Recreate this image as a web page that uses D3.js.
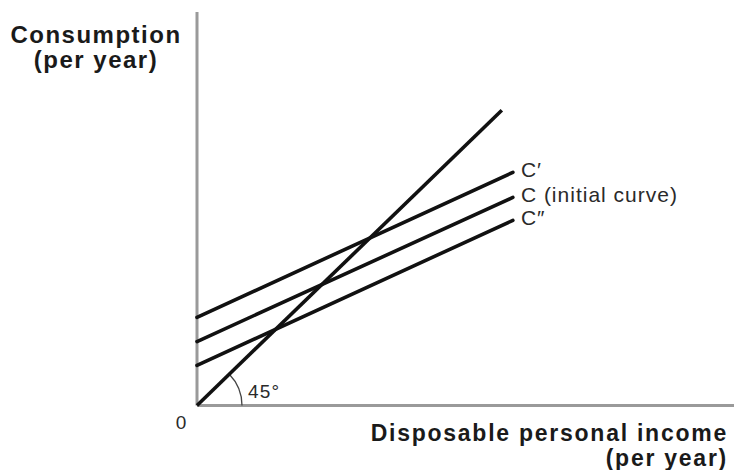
<!DOCTYPE html>
<html>
<head>
<meta charset="utf-8">
<script src="https://cdn.jsdelivr.net/npm/d3@7"></script>
<style>
  html, body { margin: 0; padding: 0; background: #fff; }
  svg { display: block; font-family: "Liberation Sans", Arial, sans-serif; }
</style>
</head>
<body>
<svg id="chart" width="734" height="470"></svg>
<script>
// ---- data ----
const curveLabels = ["C′", "C", "C″"];
const curveSuffix = ["", " (initial curve)", ""];
const curveStartX = 0;
const curveEndX = 10;
const curveIntercepts = [2.88, 2.09, 1.31];   // consumption at zero income
const curveEndValues = [7.62, 6.80, 6.05];    // consumption at curveEndX
const line45X = [0, 9.65];                    // 45-degree line, y = x
const xMax = 17;
const yMax = 12.86;
const originLabel = "0";
const angleLabel = "45°";
const yTitle = ["Consumption", "(per year)"];
const xTitle = ["Disposable personal income", "(per year)"];

// ---- scales ----
const svg = d3.select("#chart");
const x = d3.scaleLinear().domain([0, xMax]).range([197, 734]);
const y = d3.scaleLinear().domain([0, yMax]).range([405.5, 12]);

// ---- axes ----
const axisColor = "#9a9a9a";
svg.append("line")
  .attr("x1", x(0)).attr("x2", x(0))
  .attr("y1", y(0)).attr("y2", y(yMax))
  .attr("stroke", axisColor).attr("stroke-width", 3);
svg.append("line")
  .attr("x1", x(0)).attr("x2", x(xMax))
  .attr("y1", y(0)).attr("y2", y(0))
  .attr("stroke", axisColor).attr("stroke-width", 3);

// ---- 45 degree arc ----
const r = 45;
const ang = Math.atan2(y(0) - y(line45X[1]), x(line45X[1]) - x(0));
svg.append("path")
  .attr("d", `M${x(0) + r},${y(0)} A${r},${r} 0 0 0 ${x(0) + r * Math.cos(ang)},${y(0) - r * Math.sin(ang)}`)
  .attr("fill", "none").attr("stroke", "#444").attr("stroke-width", 1.3);

// ---- lines ----
const lineGen = d3.line().x(d => x(d[0])).y(d => y(d[1]));
svg.append("path")
  .attr("d", lineGen(line45X.map(v => [v, v])))
  .attr("fill", "none").attr("stroke", "#111").attr("stroke-width", 3.6);

curveLabels.forEach((lab, i) => {
  svg.append("path")
    .attr("d", lineGen([[curveStartX, curveIntercepts[i]], [curveEndX, curveEndValues[i]]]))
    .attr("fill", "none").attr("stroke", "#111").attr("stroke-width", 3.6)
    .attr("stroke-linecap", "round");
  const t = svg.append("text")
    .attr("x", x(curveEndX) + 8)
    .attr("y", y(curveEndValues[i]) + 4.5)
    .attr("font-size", 21).attr("fill", "#2a2a2a")
    .attr("letter-spacing", 1.0);
  t.append("tspan").text(lab);
  if (curveSuffix[i]) t.append("tspan").text(curveSuffix[i]);
});

// ---- labels ----
svg.append("text").attr("x", 248).attr("y", 397.5)
  .attr("font-size", 19).attr("letter-spacing", 1.2).attr("fill", "#2a2a2a").text(angleLabel);
svg.append("text").attr("x", 181).attr("y", 429).attr("text-anchor", "middle")
  .attr("font-size", 19).attr("fill", "#2a2a2a").text(originLabel);

const yt = svg.append("text").attr("text-anchor", "middle")
  .attr("font-size", 24).attr("font-weight", "bold").attr("letter-spacing", 1.5)
  .attr("fill", "#1a1a1a");
yt.append("tspan").attr("x", 96).attr("y", 43).text(yTitle[0]);
yt.append("tspan").attr("x", 96).attr("y", 68).text(yTitle[1]);

const xt = svg.append("text").attr("text-anchor", "end")
  .attr("font-size", 23).attr("font-weight", "bold").attr("letter-spacing", 1.75)
  .attr("fill", "#1a1a1a");
xt.append("tspan").attr("x", 728).attr("y", 440.5).text(xTitle[0]);
xt.append("tspan").attr("x", 728).attr("y", 466).text(xTitle[1]);
</script>
</body>
</html>
